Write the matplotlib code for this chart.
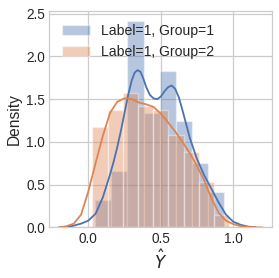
import numpy as np
import matplotlib
matplotlib.use("Agg")
import matplotlib.pyplot as plt

# ---- data ----
# Group 1 histogram (density)
g1_edges = [0.046, 0.158, 0.269, 0.381, 0.492, 0.604, 0.715, 0.827, 0.938]
g1_heights = [0.32, 0.66, 2.42, 1.34, 1.83, 1.25, 0.75, 0.41]
# Group 2 histogram (density)
g2_edges = [0.028, 0.133, 0.238, 0.343, 0.448, 0.553, 0.658, 0.763, 0.868, 0.972]
g2_heights = [1.18, 1.37, 1.57, 1.42, 1.37, 1.08, 0.88, 0.535, 0.146]

# KDE curves
g1_kde_x = [-0.20, -0.15, -0.10, -0.05, 0.00, 0.05, 0.10, 0.15, 0.175, 0.20,
            0.225, 0.25, 0.275, 0.30, 0.32, 0.34, 0.36, 0.38, 0.40, 0.425,
            0.45, 0.475, 0.50, 0.525, 0.55, 0.575, 0.60, 0.625, 0.65, 0.675,
            0.70, 0.75, 0.80, 0.85, 0.90, 0.95, 1.00, 1.05, 1.10, 1.15]
g1_kde_y = [0.0, 0.005, 0.022, 0.045, 0.08, 0.16, 0.35, 0.62, 0.77, 0.94,
            1.13, 1.34, 1.55, 1.72, 1.81, 1.84, 1.82, 1.74, 1.64, 1.55,
            1.51, 1.50, 1.53, 1.59, 1.64, 1.66, 1.62, 1.52, 1.37, 1.21,
            1.05, 0.80, 0.61, 0.45, 0.29, 0.15, 0.068, 0.032, 0.011, 0.003]
g2_kde_x = [-0.20, -0.15, -0.10, -0.05, 0.00, 0.05, 0.10, 0.15, 0.20, 0.25,
            0.30, 0.35, 0.40, 0.45, 0.50, 0.55, 0.60, 0.65, 0.70, 0.75,
            0.80, 0.85, 0.90, 0.95, 1.00, 1.05, 1.10, 1.15, 1.20]
g2_kde_y = [0.0, 0.015, 0.045, 0.15, 0.42, 0.75, 1.07, 1.34, 1.47, 1.51,
            1.50, 1.46, 1.44, 1.41, 1.33, 1.23, 1.12, 1.00, 0.87, 0.72,
            0.55, 0.34, 0.17, 0.08, 0.04, 0.016, 0.006, 0.002, 0.0]

labels = ["Label=1, Group=1", "Label=1, Group=2"]
colors = ["#4C72B0", "#DD8452"]

plt.rcParams["font.family"] = ["Liberation Sans", "DejaVu Sans"]
plt.rcParams["mathtext.fontset"] = "dejavusans"

fig = plt.figure(figsize=(2.79, 2.78), dpi=100)
ax = fig.add_axes([0.1767, 0.1817, 0.799, 0.779])
ax.set_facecolor("white")

for edges, heights, kx, ky, col, lab in [
    (g1_edges, g1_heights, g1_kde_x, g1_kde_y, colors[0], labels[0]),
    (g2_edges, g2_heights, g2_kde_x, g2_kde_y, colors[1], labels[1]),
]:
    e = np.asarray(edges)
    ax.bar(e[:-1], heights, width=np.diff(e), align="edge", color=col,
           alpha=0.4, edgecolor="white", linewidth=1.0, label=lab, zorder=2)
    ax.plot(kx, ky, color=col, lw=1.3, zorder=3)

ax.set_xlim(-0.269, 1.269)
ax.set_ylim(0, 2.532)
ax.set_xticks([0.0, 0.5, 1.0])
ax.set_yticks([0.0, 0.5, 1.0, 1.5, 2.0, 2.5])
ax.grid(True, color="#cccccc", linewidth=0.9, zorder=0)
ax.set_axisbelow(True)
for s in ax.spines.values():
    s.set_color("#cccccc")
    s.set_linewidth(0.9)
ax.tick_params(length=0, labelsize=9.8, colors="#262626", pad=3)
ax.set_ylabel("Density", fontsize=11.2, color="#262626", labelpad=3)
ax.set_xlabel(r"$\hat{Y}$", fontsize=12, color="#262626", labelpad=2)

ax.legend(loc="upper left", frameon=False, fontsize=10.1, labelcolor="#262626")

fig.savefig("out.png", dpi=100)
